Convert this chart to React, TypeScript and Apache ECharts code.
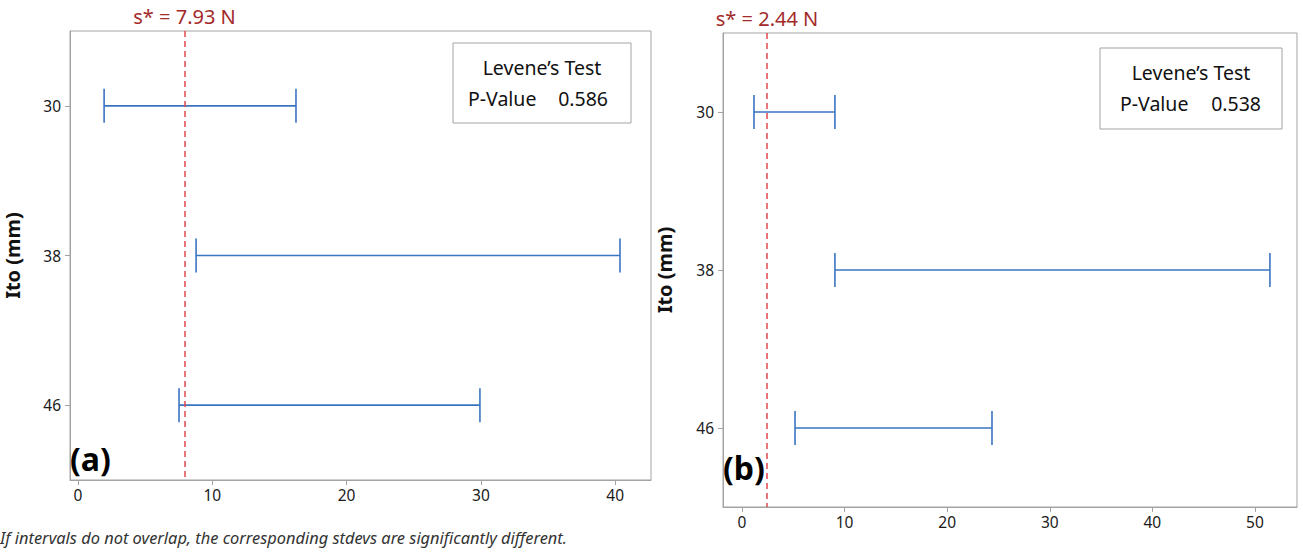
import React, { useEffect, useRef } from "react";
import * as echarts from "echarts";

// Ito groups (mm) and the Bonferroni confidence intervals for the standard deviation
const groups = [30, 38, 46];
const lowA = [1.94, 8.79, 7.52];
const highA = [16.23, 40.36, 29.93];
const lowB = [1.17, 9.06, 5.17];
const highB = [9.06, 51.46, 24.37];

// pooled standard deviation reference and Levene's test result for each panel
const sStarA = 7.93;
const sStarB = 2.44;
const pValueA = "0.586";
const pValueB = "0.538";

const xTicksA = [0, 10, 20, 30, 40];
const xTicksB = [0, 10, 20, 30, 40, 50];
const yTicks = groups;

const FONT = "Noto Sans";
const BLUE = "#3a74c0";
const FRAME = "#a3a3a3";
const DASH = "#e2474f";
const DARK_RED = "#a32a2a";

function intervalData(lo: number[], hi: number[]) {
  return groups.map((g, i) => [g, lo[i], hi[i]]);
}

function renderInterval(params: any, api: any) {
  const y = api.value(0);
  const a = api.coord([api.value(1), y]);
  const b = api.coord([api.value(2), y]);
  const cap = 17;
  const style = { stroke: BLUE, lineWidth: 1.6, fill: null };
  return {
    type: "group",
    children: [
      { type: "line", shape: { x1: a[0], y1: a[1], x2: b[0], y2: b[1] }, style },
      { type: "line", shape: { x1: a[0], y1: a[1] - cap, x2: a[0], y2: a[1] + cap }, style },
      { type: "line", shape: { x1: b[0], y1: b[1] - cap, x2: b[0], y2: b[1] + cap }, style },
    ],
  };
}

function xAxis(idx: number, min: number, max: number, ticks: number[]) {
  return {
    type: "value",
    gridIndex: idx,
    min,
    max,
    axisLine: { show: true, onZero: false, lineStyle: { color: FRAME } },
    splitLine: { show: false },
    axisTick: { show: true, inside: false, length: 5, customValues: ticks, lineStyle: { color: FRAME } },
    axisLabel: {
      customValues: ticks,
      margin: 7,
      fontFamily: FONT,
      fontSize: 15.5,
      color: "#1a1a1a",
    },
  };
}

function yAxis(idx: number, gap: number) {
  return {
    type: "value",
    gridIndex: idx,
    inverse: true,
    min: 26,
    max: 50,
    name: "Ito (mm)",
    nameLocation: "middle",
    nameRotate: 90,
    nameGap: gap,
    nameTextStyle: { fontFamily: FONT, fontSize: 20, fontWeight: "bold", color: "#111" },
    axisLine: { show: true, onZero: false, lineStyle: { color: FRAME } },
    splitLine: { show: false },
    axisTick: { show: true, inside: false, length: 5, customValues: yTicks, lineStyle: { color: FRAME } },
    axisLabel: {
      customValues: yTicks,
      margin: 9,
      fontFamily: FONT,
      fontSize: 15.5,
      color: "#1a1a1a",
    },
  };
}

function intervalSeries(idx: number, lo: number[], hi: number[], sStar: number) {
  return {
    type: "custom",
    xAxisIndex: idx,
    yAxisIndex: idx,
    renderItem: renderInterval,
    encode: { x: [1, 2], y: 0 },
    data: intervalData(lo, hi),
    silent: true,
    markLine: {
      silent: true,
      symbol: "none",
      lineStyle: { color: DASH, type: [6, 4], width: 1.5 },
      label: {
        show: true,
        position: "start",
        distance: 5,
        formatter: `s* = ${sStar} N`,
        fontFamily: FONT,
        fontSize: 20,
        color: DARK_RED,
      },
      data: [[{ coord: [sStar, 26] }, { coord: [sStar, 50] }]],
    },
  };
}

function leveneBox(x: number, y: number, w: number, h: number, p: string, padL: number, padR: number) {
  const style = { fontFamily: FONT, fontSize: 19.5, fill: "#111" };
  return {
    type: "group",
    x,
    y,
    children: [
      { type: "rect", shape: { x: 0, y: 0, width: w, height: h }, style: { fill: "#fff", stroke: FRAME, lineWidth: 1 } },
      { type: "text", x: w / 2, y: h * 0.3, style: { ...style, text: "Levene’s Test", align: "center", verticalAlign: "middle" } },
      { type: "text", x: padL, y: h * 0.69, style: { ...style, text: "P-Value", align: "left", verticalAlign: "middle" } },
      { type: "text", x: w - padR, y: h * 0.69, style: { ...style, text: p, align: "right", verticalAlign: "middle" } },
    ],
  };
}

export default function App() {
  const ref = useRef<HTMLDivElement>(null);

  useEffect(() => {
    if (!ref.current) return;
    const chart = echarts.init(ref.current, null, { renderer: "svg" });
    chart.setOption({
      animation: false,
      backgroundColor: "#fff",
      grid: [
        { left: 70, top: 31, width: 581, height: 449, show: true, borderColor: FRAME, borderWidth: 1, backgroundColor: "transparent" },
        { left: 723, top: 33, width: 574, height: 474, show: true, borderColor: FRAME, borderWidth: 1, backgroundColor: "transparent" },
      ],
      xAxis: [xAxis(0, -0.6, 42.67, xTicksA), xAxis(1, -1.85, 54.1, xTicksB)],
      yAxis: [yAxis(0, 48), yAxis(1, 49)],
      series: [
        intervalSeries(0, lowA, highA, sStarA),
        intervalSeries(1, lowB, highB, sStarB),
      ],
      graphic: [
        leveneBox(453, 43, 178, 80, pValueA, 15, 23),
        leveneBox(1100, 48, 182, 81, pValueB, 20, 21),
        {
          type: "text",
          x: 70,
          y: 458,
          style: { text: "(a)", fontFamily: FONT, fontSize: 32, fontWeight: "bold", fill: "#000", verticalAlign: "middle" },
        },
        {
          type: "text",
          x: 723,
          y: 467,
          style: { text: "(b)", fontFamily: FONT, fontSize: 32, fontWeight: "bold", fill: "#000", verticalAlign: "middle" },
        },
        {
          type: "text",
          x: 0,
          y: 537,
          style: {
            text: "If intervals do not overlap, the corresponding stdevs are significantly different.",
            fontFamily: FONT,
            fontSize: 16.4,
            fontStyle: "italic",
            fill: "#333",
            verticalAlign: "middle",
          },
        },
      ],
    });
    return () => chart.dispose();
  }, []);

  return (
    <div
      ref={ref}
      style={{ position: "fixed", left: 0, top: 0, width: 1303, height: 552 }}
    />
  );
}
